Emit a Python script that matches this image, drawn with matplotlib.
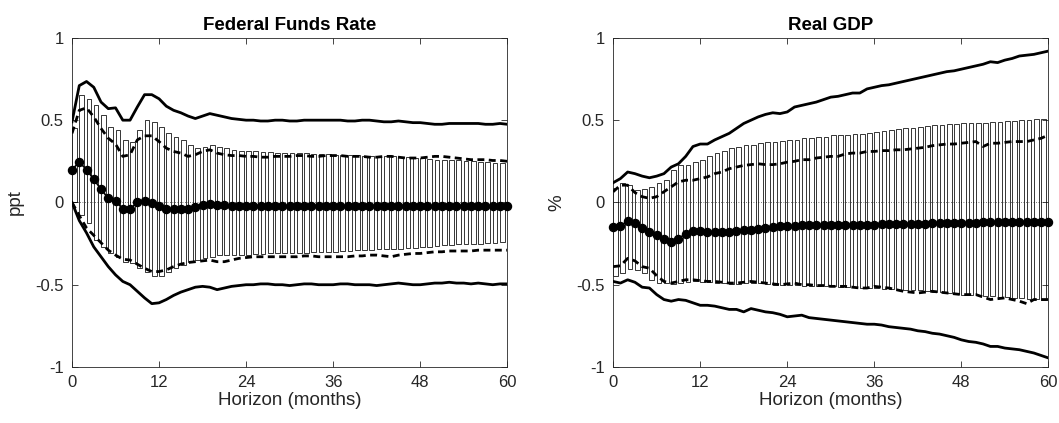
import numpy as np
import matplotlib
matplotlib.use("Agg")
import matplotlib.pyplot as plt

plt.rcParams['font.family'] = ['Liberation Sans', 'DejaVu Sans']

horizon = np.arange(61)
xtick_vals = [0, 12, 24, 36, 48, 60]
ytick_vals = [-1, -0.5, 0, 0.5, 1]
ytick_labels = ["-1", "-0.5", "0", "0.5", "1"]

# Federal Funds Rate
ffr_median = [
    0.20, 0.245, 0.20, 0.14, 0.08, 0.025, 0.01, -0.04, -0.04, 0.0,
    0.01, -0.005, -0.02, -0.04, -0.04, -0.04, -0.04, -0.03, -0.015, -0.01,
    -0.015, -0.015, -0.02, -0.02, -0.02, -0.02, -0.02, -0.02, -0.02, -0.02,
    -0.02, -0.02, -0.02, -0.02, -0.02, -0.02, -0.02, -0.02, -0.02, -0.02,
    -0.02, -0.02, -0.02, -0.02, -0.02, -0.02, -0.02, -0.02, -0.02, -0.02,
    -0.02, -0.02, -0.02, -0.02, -0.02, -0.02, -0.02, -0.02, -0.02, -0.02,
    -0.02]
ffr_upper = [
    0.49, 0.71, 0.735, 0.70, 0.61, 0.57, 0.575, 0.50, 0.50, 0.58,
    0.655, 0.655, 0.63, 0.585, 0.56, 0.545, 0.525, 0.51, 0.525, 0.54,
    0.53, 0.52, 0.51, 0.505, 0.50, 0.50, 0.495, 0.495, 0.50, 0.50,
    0.495, 0.495, 0.50, 0.50, 0.50, 0.50, 0.50, 0.50, 0.495, 0.495,
    0.50, 0.50, 0.495, 0.49, 0.49, 0.495, 0.49, 0.485, 0.485, 0.48,
    0.475, 0.475, 0.48, 0.48, 0.48, 0.48, 0.48, 0.475, 0.475, 0.48,
    0.475]
ffr_lower = [
    0.0, -0.11, -0.185, -0.27, -0.33, -0.39, -0.44, -0.48, -0.50, -0.54,
    -0.58, -0.615, -0.61, -0.59, -0.565, -0.545, -0.53, -0.515, -0.51, -0.515,
    -0.53, -0.52, -0.51, -0.505, -0.50, -0.50, -0.495, -0.495, -0.50, -0.50,
    -0.505, -0.50, -0.495, -0.495, -0.50, -0.50, -0.50, -0.495, -0.495, -0.50,
    -0.50, -0.50, -0.505, -0.50, -0.495, -0.49, -0.495, -0.50, -0.50, -0.495,
    -0.49, -0.49, -0.485, -0.49, -0.49, -0.495, -0.49, -0.495, -0.50, -0.495,
    -0.495]
ffr_upper_alt = [
    0.42, 0.56, 0.575, 0.52, 0.45, 0.39, 0.355, 0.28, 0.29, 0.38,
    0.405, 0.405, 0.37, 0.33, 0.31, 0.30, 0.28, 0.29, 0.31, 0.32,
    0.30, 0.29, 0.285, 0.285, 0.28, 0.28, 0.275, 0.275, 0.28, 0.28,
    0.28, 0.285, 0.285, 0.28, 0.28, 0.285, 0.285, 0.285, 0.28, 0.28,
    0.28, 0.275, 0.275, 0.28, 0.28, 0.275, 0.27, 0.27, 0.27, 0.275,
    0.28, 0.28, 0.275, 0.27, 0.265, 0.26, 0.26, 0.26, 0.255, 0.255,
    0.25]
ffr_lower_alt = [
    0.0, -0.08, -0.155, -0.20, -0.245, -0.29, -0.32, -0.345, -0.35, -0.375,
    -0.40, -0.42, -0.42, -0.41, -0.39, -0.375, -0.365, -0.36, -0.355, -0.35,
    -0.36, -0.36, -0.35, -0.34, -0.335, -0.33, -0.33, -0.33, -0.33, -0.33,
    -0.33, -0.33, -0.325, -0.325, -0.33, -0.33, -0.33, -0.33, -0.33, -0.325,
    -0.325, -0.32, -0.32, -0.325, -0.33, -0.32, -0.315, -0.31, -0.31, -0.305,
    -0.30, -0.30, -0.295, -0.295, -0.295, -0.295, -0.29, -0.29, -0.29, -0.29,
    -0.29]
ffr_box_top = [
    0.45, 0.65, 0.63, 0.59, 0.53, 0.46, 0.44, 0.38, 0.37, 0.44,
    0.50, 0.49, 0.46, 0.42, 0.40, 0.38, 0.35, 0.33, 0.34, 0.35,
    0.34, 0.33, 0.32, 0.31, 0.31, 0.31, 0.305, 0.305, 0.30, 0.30,
    0.30, 0.30, 0.30, 0.295, 0.295, 0.295, 0.29, 0.29, 0.29, 0.29,
    0.285, 0.285, 0.28, 0.28, 0.28, 0.275, 0.275, 0.27, 0.27, 0.265,
    0.26, 0.26, 0.255, 0.255, 0.25, 0.25, 0.245, 0.245, 0.24, 0.24,
    0.235]
ffr_box_bottom = [
    0.0, -0.075, -0.125, -0.23, -0.27, -0.31, -0.33, -0.36, -0.37, -0.40,
    -0.42, -0.445, -0.445, -0.42, -0.40, -0.38, -0.36, -0.35, -0.34, -0.33,
    -0.32, -0.32, -0.32, -0.32, -0.32, -0.315, -0.315, -0.31, -0.31, -0.31,
    -0.31, -0.305, -0.305, -0.30, -0.30, -0.30, -0.30, -0.295, -0.295, -0.29,
    -0.29, -0.29, -0.285, -0.285, -0.28, -0.28, -0.275, -0.275, -0.27, -0.27,
    -0.265, -0.26, -0.26, -0.255, -0.255, -0.25, -0.25, -0.245, -0.245, -0.24,
    -0.24]

# Real GDP
gdp_median = [
    -0.15, -0.145, -0.11, -0.125, -0.155, -0.18, -0.20, -0.225, -0.24, -0.22,
    -0.19, -0.175, -0.175, -0.18, -0.18, -0.18, -0.18, -0.175, -0.17, -0.165,
    -0.16, -0.155, -0.15, -0.145, -0.145, -0.145, -0.14, -0.14, -0.14, -0.14,
    -0.14, -0.135, -0.135, -0.135, -0.135, -0.135, -0.135, -0.13, -0.13, -0.13,
    -0.13, -0.13, -0.13, -0.13, -0.125, -0.125, -0.125, -0.125, -0.125, -0.125,
    -0.125, -0.12, -0.12, -0.12, -0.12, -0.12, -0.12, -0.12, -0.12, -0.12,
    -0.12]
gdp_upper = [
    0.12, 0.145, 0.185, 0.175, 0.16, 0.15, 0.16, 0.175, 0.215, 0.235,
    0.28, 0.34, 0.355, 0.355, 0.38, 0.40, 0.42, 0.45, 0.48, 0.50,
    0.52, 0.535, 0.545, 0.54, 0.55, 0.58, 0.59, 0.60, 0.61, 0.625,
    0.64, 0.645, 0.655, 0.665, 0.665, 0.69, 0.70, 0.71, 0.715, 0.725,
    0.735, 0.745, 0.755, 0.765, 0.775, 0.785, 0.795, 0.80, 0.81, 0.82,
    0.83, 0.84, 0.855, 0.85, 0.865, 0.875, 0.89, 0.895, 0.90, 0.91,
    0.92]
gdp_lower = [
    -0.48, -0.49, -0.47, -0.485, -0.515, -0.52, -0.56, -0.59, -0.60, -0.59,
    -0.595, -0.61, -0.625, -0.625, -0.63, -0.64, -0.65, -0.65, -0.665, -0.645,
    -0.655, -0.665, -0.67, -0.68, -0.695, -0.69, -0.685, -0.70, -0.705, -0.71,
    -0.715, -0.72, -0.725, -0.73, -0.735, -0.74, -0.74, -0.745, -0.755, -0.76,
    -0.765, -0.77, -0.78, -0.785, -0.795, -0.80, -0.81, -0.82, -0.835, -0.845,
    -0.85, -0.86, -0.875, -0.875, -0.885, -0.89, -0.895, -0.905, -0.915, -0.93,
    -0.945]
gdp_upper_alt = [
    0.065, 0.105, 0.105, 0.06, 0.035, 0.025, 0.035, 0.065, 0.095, 0.125,
    0.135, 0.135, 0.145, 0.155, 0.175, 0.185, 0.205, 0.215, 0.225, 0.23,
    0.235, 0.23, 0.23, 0.235, 0.245, 0.25, 0.26, 0.26, 0.27, 0.275,
    0.28, 0.28, 0.295, 0.30, 0.30, 0.31, 0.31, 0.315, 0.315, 0.32,
    0.32, 0.325, 0.33, 0.335, 0.345, 0.35, 0.355, 0.355, 0.36, 0.365,
    0.37, 0.34, 0.36, 0.36, 0.365, 0.37, 0.37, 0.37, 0.38, 0.39,
    0.41]
gdp_lower_alt = [
    -0.39, -0.385, -0.34, -0.355, -0.39, -0.40, -0.445, -0.48, -0.49, -0.48,
    -0.47, -0.47, -0.475, -0.48, -0.48, -0.485, -0.49, -0.49, -0.485, -0.48,
    -0.485, -0.49, -0.495, -0.50, -0.495, -0.49, -0.50, -0.50, -0.505, -0.505,
    -0.51, -0.51, -0.51, -0.515, -0.52, -0.52, -0.51, -0.515, -0.52, -0.53,
    -0.54, -0.545, -0.55, -0.545, -0.54, -0.545, -0.55, -0.555, -0.56, -0.56,
    -0.56, -0.575, -0.59, -0.585, -0.58, -0.59, -0.60, -0.615, -0.59, -0.59,
    -0.59]
gdp_box_top = [
    0.085, 0.12, 0.105, 0.075, 0.08, 0.095, 0.12, 0.135, 0.20, 0.225,
    0.23, 0.245, 0.26, 0.28, 0.30, 0.31, 0.33, 0.34, 0.35, 0.35,
    0.36, 0.365, 0.37, 0.375, 0.38, 0.38, 0.39, 0.39, 0.395, 0.40,
    0.41, 0.41, 0.41, 0.415, 0.415, 0.42, 0.43, 0.435, 0.44, 0.445,
    0.45, 0.455, 0.46, 0.465, 0.47, 0.47, 0.475, 0.475, 0.48, 0.48,
    0.485, 0.485, 0.49, 0.49, 0.495, 0.495, 0.50, 0.50, 0.505, 0.505,
    0.51]
gdp_box_bottom = [
    -0.45, -0.43, -0.405, -0.41, -0.43, -0.47, -0.49, -0.49, -0.495, -0.49,
    -0.485, -0.48, -0.485, -0.485, -0.49, -0.49, -0.495, -0.495, -0.49, -0.49,
    -0.49, -0.495, -0.50, -0.50, -0.50, -0.50, -0.505, -0.505, -0.51, -0.51,
    -0.51, -0.515, -0.515, -0.515, -0.52, -0.52, -0.52, -0.525, -0.525, -0.53,
    -0.53, -0.535, -0.535, -0.54, -0.545, -0.545, -0.55, -0.555, -0.56, -0.56,
    -0.565, -0.57, -0.57, -0.575, -0.575, -0.58, -0.58, -0.585, -0.585, -0.59,
    -0.59]

AXIS_GREY = (0.15, 0.15, 0.15)


def draw_panel(ax, title, ylabel, median, upper, lower, upper_alt, lower_alt,
               box_top, box_bottom):
    top = np.array(box_top)
    bottom = np.array(box_bottom)
    ax.bar(horizon, top - bottom, bottom=bottom, width=0.65, align='edge',
           fill=False, edgecolor='black', linewidth=0.55, zorder=2)
    ax.axhline(0, color='0.3', linestyle=(0, (1, 2)), linewidth=0.6, zorder=1)
    ax.plot(horizon, upper, color='black', linewidth=2.0, zorder=3)
    ax.plot(horizon, lower, color='black', linewidth=2.0, zorder=3)
    ax.plot(horizon, upper_alt, color='black', linewidth=2.0,
            dashes=(2.5, 1.6), zorder=3)
    ax.plot(horizon, lower_alt, color='black', linewidth=2.0,
            dashes=(2.5, 1.6), zorder=3)
    ax.plot(horizon, median, color='black', linewidth=1.2, marker='o',
            markersize=5.8, zorder=4, clip_on=False)

    ax.set_xlim(0, 60)
    ax.set_ylim(-1, 1)
    ax.set_xticks(xtick_vals)
    ax.set_yticks(ytick_vals)
    ax.set_yticklabels(ytick_labels)
    ax.tick_params(direction='in', length=4, width=0.6, top=True, right=True,
                   labelsize=12, colors=AXIS_GREY, pad=6)
    for spine in ax.spines.values():
        spine.set_color(AXIS_GREY)
        spine.set_linewidth(0.6)
    ax.set_title(title, fontsize=13.5, fontweight='bold', pad=6)
    ax.set_xlabel("Horizon (months)", fontsize=13.5, color=AXIS_GREY,
                  labelpad=1)
    ax.set_ylabel(ylabel, fontsize=13.5, color=AXIS_GREY, labelpad=8)


fig = plt.figure(figsize=(10.59, 4.23), dpi=100)
ax1 = fig.add_axes([0.068, 0.1324, 0.411, 0.778])
ax2 = fig.add_axes([0.579, 0.1324, 0.411, 0.778])

draw_panel(ax1, "Federal Funds Rate", "ppt", ffr_median, ffr_upper, ffr_lower,
           ffr_upper_alt, ffr_lower_alt, ffr_box_top, ffr_box_bottom)
draw_panel(ax2, "Real GDP", "%", gdp_median, gdp_upper, gdp_lower,
           gdp_upper_alt, gdp_lower_alt, gdp_box_top, gdp_box_bottom)

fig.savefig("out.png", dpi=100)
